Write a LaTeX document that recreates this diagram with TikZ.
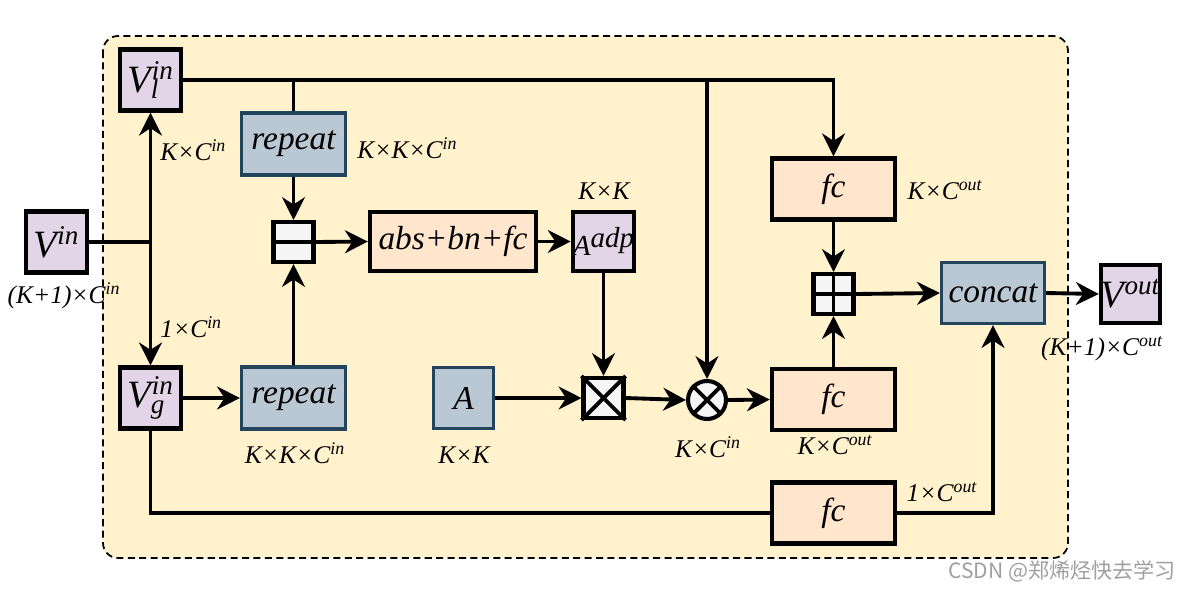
\documentclass[tikz,border=0pt]{standalone}
\usepackage{fontspec}
\setmainfont{Liberation Serif}
\newfontfamily\cjk{Noto Sans CJK SC}
\usetikzlibrary{arrows.meta}
\definecolor{bgyellow}{HTML}{FFF2CC}
\definecolor{lilac}{HTML}{E1D5E7}
\definecolor{peach}{HTML}{FFE6CC}
\definecolor{slate}{HTML}{BAC8D3}
\definecolor{slateline}{HTML}{23445D}
\definecolor{opgray}{HTML}{F5F5F5}
\newcommand{\vsupsub}[3]{#1\textsubscript{\rlap{#2}}\textsuperscript{#3}}
\tikzset{
	bgframe/.style={draw, fill=bgyellow, dash pattern=on 4pt off 2.5pt, line width=1pt, rounded corners=0.3cm},
	lilacbox/.style={draw, fill=lilac, line width=2.5pt, inner sep=0pt, minimum width=1.22cm, minimum height=1.22cm, font=\fontsize{22}{24}\selectfont\itshape},
	slatebox/.style={draw=slateline, fill=slate, line width=1.8pt, inner sep=0pt, minimum width=2.08cm, minimum height=1.24cm, font=\fontsize{19}{22}\selectfont\itshape},
	peachbox/.style={draw, fill=peach, line width=2.5pt, inner sep=0pt, minimum width=2.46cm, minimum height=1.22cm, font=\fontsize{19}{22}\selectfont\itshape},
	opbox/.style={draw, fill=opgray, line width=2.3pt, inner sep=0pt, minimum width=0.8cm, minimum height=0.8cm},
	dimtext/.style={inner sep=0pt, font=\fontsize{14.5}{16}\selectfont\itshape},
	wire/.style={line width=2.2pt},
	arr/.style={line width=2.2pt, -{Stealth[length=13pt,width=13pt]}}
}
\begin{document}
\begin{tikzpicture}[x=0.02cm,y=-0.02cm]
\useasboundingbox (0,0) rectangle (1192,589);
\draw[bgframe] (103,36) rectangle (1068,558);

\node[lilacbox] (vin) at (56.5,242) {V\textsuperscript{in}};
\node[lilacbox] (vl) at (150.5,80) {\vsupsub{V}{l}{in}};
\node[lilacbox] (vg) at (150.5,398) {\vsupsub{V}{g}{in}};
\node[slatebox] (reptop) at (293.5,144) {repeat};
\node[slatebox] (repbot) at (293.5,398) {repeat};
\node[opbox] (split) at (293.5,242) {};
\node[peachbox, minimum width=3.32cm, minimum height=1.18cm] (abs) at (453,241.5) {abs+bn+fc};
\node[lilacbox, minimum height=1.18cm, font=\fontsize{16.5}{18}\selectfont\itshape] (adp) at (603.5,241.5) {A\raisebox{0.3em}{adp}};
\node[slatebox, minimum width=1.2cm, minimum height=1.22cm] (amat) at (463.5,398) {A};
\node[opbox] (mul) at (603.5,398) {};
\node[opbox, circle, minimum size=0.76cm] (ot) at (707,400) {};
\node[peachbox] (fcmid) at (833.5,399.5) {fc};
\node[peachbox] (fctop) at (833.5,189) {fc};
\node[opbox] (plus) at (833.5,294) {};
\node[slatebox, minimum width=2.06cm, minimum height=1.22cm] (concat) at (993,293) {concat};
\node[lilacbox, minimum width=1.18cm, minimum height=1.16cm] (vout) at (1130.5,294) {V\textsuperscript{out}};
\node[peachbox] (fcbot) at (833.5,513) {fc};

\draw[wire] (split.west) -- (split.east);
\draw[wire] (plus.west) -- (plus.east);
\draw[wire] (plus.north) -- (plus.south);
\draw[wire] (mul.north west) -- (mul.south east);
\draw[wire] (mul.north east) -- (mul.south west);
\draw[wire] (ot.45) -- (ot.225);
\draw[wire] (ot.135) -- (ot.315);

\node[dimtext] (lblvin) at (64,296) {(K+1)×C\textsuperscript{in}};
\node[dimtext, anchor=west] (lblvl) at (160,150) {K×C\textsuperscript{in}};
\node[dimtext, anchor=west] (lblvg) at (160,327) {1×C\textsuperscript{in}};
\node[dimtext, anchor=west] (lblrt) at (357,148) {K×K×C\textsuperscript{in}};
\node[dimtext] (lblrb) at (295,453) {K×K×C\textsuperscript{in}};
\node[dimtext] (lbladp) at (604,191) {K×K};
\node[dimtext] (lbla) at (464,455) {K×K};
\node[dimtext] (lblot) at (708,447) {K×C\textsuperscript{in}};
\node[dimtext] (lblfm) at (835,445) {K×C\textsuperscript{out}};
\node[dimtext] (lblft) at (945,190) {K×C\textsuperscript{out}};
\node[dimtext] (lblfb) at (942,492) {1×C\textsuperscript{out}};
\node[dimtext] (lblvout) at (1102,349) {(K+1)×C\textsuperscript{out}};

\coordinate (junc) at (vin.east -| vl.south);
\draw[wire] (vin.east) -- (junc);
\draw[arr] (junc) -- (vl.south);
\draw[arr] (junc) -- (vg.north);
\draw[arr] (vl.east) -| (fctop.north);
\draw[wire] (vl.east -| reptop.north) -- (reptop.north);
\draw[arr] (vl.east -| ot.north) -- (ot.north);
\draw[arr] (reptop.south) -- (split.north);
\draw[arr] (repbot.north) -- (split.south);
\draw[arr] (vg.east) -- (repbot.west);
\draw[arr] (split.east) -- (abs.west);
\draw[arr] (abs.east) -- (adp.west);
\draw[arr] (adp.south) -- (mul.north);
\draw[arr] (amat.east) -- (mul.west);
\draw[arr] (mul.east) -- (ot.west);
\draw[arr] (ot.east) -- (fcmid.west);
\draw[arr] (fcmid.north) -- (plus.south);
\draw[arr] (fctop.south) -- (plus.north);
\draw[arr] (plus.east) -- (concat.west);
\draw[arr] (concat.east) -- (vout.west);
\draw[wire] (vg.south) |- (fcbot.west);
\draw[arr] (fcbot.east) -| (concat.south);

\node[anchor=east, text=gray!75, font=\cjk\fontsize{12}{14}\selectfont] (mark) at (1182,571) {CSDN @郑烯烃快去学习};
\end{tikzpicture}
\end{document}
